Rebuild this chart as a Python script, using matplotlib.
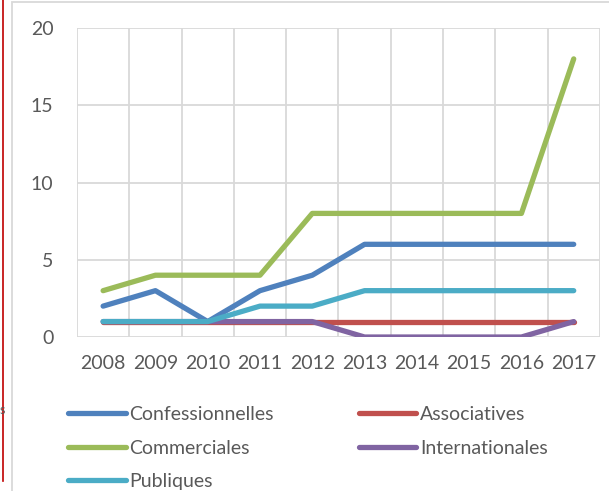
# Evolution du nombre de structures par type, 2008-2017
import matplotlib.pyplot as plt
from matplotlib.lines import Line2D
from matplotlib.patches import Rectangle

years = [2008, 2009, 2010, 2011, 2012, 2013, 2014, 2015, 2016, 2017]
confessionnelles = [2, 3, 1, 3, 4, 6, 6, 6, 6, 6]
associatives = [1, 1, 1, 1, 1, 1, 1, 1, 1, 1]
commerciales = [3, 4, 4, 4, 8, 8, 8, 8, 8, 18]
internationales = [1, 1, 1, 1, 1, 0, 0, 0, 0, 1]
publiques = [1, 1, 1, 2, 2, 3, 3, 3, 3, 3]

series = [
    ("Confessionnelles", confessionnelles, "#4F81BD"),
    ("Associatives", associatives, "#C0504D"),
    ("Commerciales", commerciales, "#9BBB59"),
    ("Internationales", internationales, "#8064A2"),
    ("Publiques", publiques, "#4BACC6"),
]

plt.rcParams["font.family"] = ["Lato", "DejaVu Sans"]
text_color = "#595959"
grid_color = "#D9D9D9"
fs = 14

fig = plt.figure(figsize=(6.09, 4.91), dpi=100)
ax = fig.add_axes([0.1264, 0.3136, 0.8586, 0.6294])

x = list(range(len(years)))
lines = {}
for name, values, color in series:
    (ln,) = ax.plot(x, values, color=color, lw=3.8, solid_capstyle="round",
                    solid_joinstyle="round", label=name, zorder=3)
    lines[name] = ln

ax.set_xlim(-0.5, len(years) - 0.5)
ax.set_ylim(0, 20)
ax.set_yticks([0, 5, 10, 15, 20])
ax.set_xticks(x)
ax.set_xticklabels([str(y) for y in years])

# category boundaries as vertical grid lines
for b in range(len(years) + 1):
    ax.axvline(b - 0.5, color=grid_color, lw=1.3, zorder=1)
for yv in [5, 10, 15, 20]:
    ax.axhline(yv, color=grid_color, lw=1.3, zorder=1)

for s in ax.spines.values():
    s.set_visible(False)
ax.axhline(0, color=grid_color, lw=1.3, zorder=2)
ax.tick_params(length=0, labelsize=fs, colors=text_color)
ax.tick_params(axis="y", pad=17)
ax.tick_params(axis="x", pad=13)

order = ["Confessionnelles", "Commerciales", "Publiques", "Associatives", "Internationales"]
handles = [Line2D([], [], color=lines[n].get_color(), lw=3.8, solid_capstyle="round")
           for n in order]
leg = fig.legend(handles, order, loc="upper left", bbox_to_anchor=(0.112, 0.173),
                 ncol=2, frameon=False, fontsize=fs, handlelength=2.95,
                 handletextpad=0.2, columnspacing=4.36, labelspacing=0.85,
                 borderpad=0, borderaxespad=0)
for t in leg.get_texts():
    t.set_color(text_color)

# chart frame and page edge
fig.patches.append(Rectangle((12 / 609, -0.1), 1.2, 1.1 - 1.5 / 491,
                             transform=fig.transFigure, fill=False,
                             edgecolor="#D9D9D9", lw=1.3))
fig.add_artist(Line2D([3 / 609, 3 / 609], [0.02, 1], transform=fig.transFigure,
                      color="#C00000", lw=1.2))
fig.text(0, 1 - 410 / 491, "s", fontsize=9, color=text_color, va="center")

fig.savefig("out.png", dpi=100)
